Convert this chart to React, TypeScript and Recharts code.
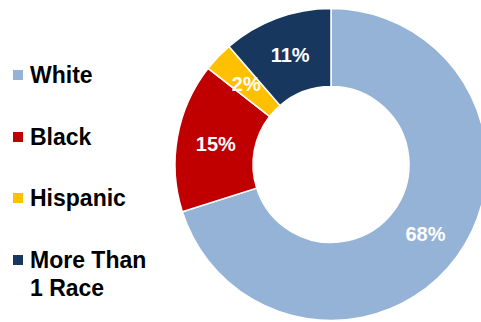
import React from 'react';
import { PieChart, Pie, Cell, Legend } from 'recharts';

const categories = ['White', 'Black', 'Hispanic', 'More Than 1 Race'];
const shares = [68, 15, 3, 11];
const shareLabels = ['68%', '15%', '2%', '11%'];
const colors = ['#95B3D7', '#C00000', '#FFC000', '#17375E'];

const data = categories.map((name, i) => ({ name, value: shares[i], label: shareLabels[i] }));

const RADIAN = Math.PI / 180;

const renderLabel = (props: any) => {
  const { cx, cy, midAngle, innerRadius, outerRadius, index } = props;
  const r = (innerRadius + outerRadius) / 2;
  const x = cx + r * Math.cos(-midAngle * RADIAN);
  const y = cy + r * Math.sin(-midAngle * RADIAN);
  return (
    <text
      x={x}
      y={y}
      fill="#ffffff"
      textAnchor="middle"
      dominantBaseline="central"
      fontSize={20}
      fontWeight="bold"
      fontFamily="'Liberation Sans', Arial, sans-serif"
    >
      {data[index].label}
    </text>
  );
};

const renderLegend = () => (
  <div style={{ fontFamily: "'Liberation Sans', Arial, sans-serif", fontWeight: 'bold', fontSize: 23 }}>
    {data.map((d, i) => (
      <div
        key={d.name}
        style={{ position: 'absolute', left: 13, top: 62 + i * 61.5, display: 'flex', alignItems: 'flex-start' }}
      >
        <span
          style={{ width: 10, height: 10, background: colors[i], marginTop: 8, marginRight: 7, flex: 'none' }}
        />
        <span style={{ width: 125, lineHeight: '28px', marginTop: -1, color: '#000' }}>{d.name}</span>
      </div>
    ))}
  </div>
);

export default function App() {
  return (
    <div style={{ position: 'absolute', left: 0, top: 0, width: 481, height: 322, background: '#fff' }}>
      <PieChart width={481} height={322} margin={{ top: 0, right: 0, bottom: 0, left: 0 }}>
        <Pie
          data={data}
          dataKey="value"
          nameKey="name"
          cx={331}
          cy={164.5}
          innerRadius={78}
          outerRadius={156}
          startAngle={90}
          endAngle={-270}
          stroke="#ffffff"
          strokeWidth={1.5}
          label={renderLabel}
          labelLine={false}
          isAnimationActive={false}
        >
          {data.map((d, i) => (
            <Cell key={d.name} fill={colors[i]} />
          ))}
        </Pie>
        <Legend
          content={renderLegend}
          wrapperStyle={{ position: 'absolute', left: 0, top: 0, width: 170, height: 322 }}
        />
      </PieChart>
    </div>
  );
}
